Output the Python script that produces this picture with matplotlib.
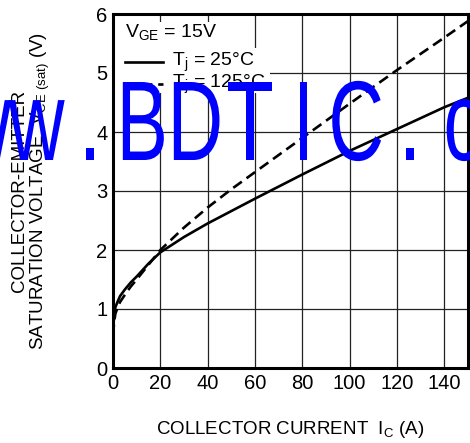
import matplotlib
matplotlib.use("Agg")
import matplotlib.pyplot as plt
from matplotlib.patches import Rectangle, PathPatch
from matplotlib.textpath import TextPath
from matplotlib.font_manager import FontProperties
from matplotlib.transforms import Affine2D

plt.rcParams['font.family'] = ['Liberation Sans', 'DejaVu Sans']
plt.rcParams['mathtext.fontset'] = 'custom'
plt.rcParams['mathtext.rm'] = 'Liberation Sans'

# Ic (A) gegen VCE(sat) (V)
ic = [0, 0.5, 1, 2, 3, 5, 7.5, 10, 15, 20, 30, 40, 50, 60, 80, 100, 120, 140, 150]
vce_25 = [0.6, 0.92, 1.03, 1.13, 1.22, 1.33, 1.45, 1.55, 1.77, 1.96, 2.22, 2.45,
          2.66, 2.87, 3.28, 3.68, 4.05, 4.42, 4.58]
vce_125 = [0.55, 0.78, 0.92, 1.03, 1.12, 1.24, 1.38, 1.5, 1.75, 2.0, 2.38, 2.72,
           3.03, 3.32, 3.9, 4.48, 5.05, 5.6, 5.88]

x_ticks = [0, 20, 40, 60, 80, 100, 120, 140]
y_ticks = [0, 1, 2, 3, 4, 5, 6]

W, H = 470, 443
fig = plt.figure(figsize=(W / 100, H / 100), dpi=100)
ax = fig.add_axes([113 / W, (H - 368) / H, 355 / W, 354 / H])

ax.plot(ic, vce_25, color='black', lw=1.9, zorder=3)
ax.plot(ic, vce_125, color='black', lw=1.9, ls=(0, (4, 2.2)), zorder=3)

ax.set_xlim(0, 150)
ax.set_ylim(0, 6)
ax.set_xticks(x_ticks)
ax.set_yticks(y_ticks)
ax.tick_params(direction='in', length=0, labelsize=14.5, pad=4)
ax.grid(True, color='#222222', lw=0.9)
ax.set_axisbelow(True)
for s in ax.spines.values():
    s.set_linewidth(2.2)

# weisse Flaechen hinter der Legende
ax.add_patch(Rectangle((0, 0.904), 0.315, 0.073, transform=ax.transAxes,
                       facecolor='white', edgecolor='none', zorder=1))
ax.add_patch(Rectangle((0, 0.777), 0.442, 0.127, transform=ax.transAxes,
                       facecolor='white', edgecolor='none', zorder=1))

ax.text(0.034, 0.946, r"V$_\mathregular{GE}$ = 15V", transform=ax.transAxes,
        fontsize=14, va='center', ha='left', zorder=4)
ax.plot([0.034, 0.141], [0.864, 0.864], transform=ax.transAxes, color='black', lw=1.9, zorder=4)
ax.plot([0.034, 0.141], [0.802, 0.802], transform=ax.transAxes, color='black', lw=1.9,
        ls=(0, (4, 2.2)), zorder=4)
ax.text(0.166, 0.864, r"T$_\mathregular{j}$ = 25°C", transform=ax.transAxes,
        fontsize=14, va='center', ha='left', zorder=4)
ax.text(0.166, 0.802, r"T$_\mathregular{j}$ = 125°C", transform=ax.transAxes,
        fontsize=14, va='center', ha='left', zorder=4)

ax.set_xlabel(r"COLLECTOR CURRENT  I$_\mathregular{C}$ (A)", fontsize=13.5, labelpad=19)

fig.text(20 / W, 0.568, "COLLECTOR-EMITTER", rotation=90, fontsize=13.5,
         ha='center', va='center')
fig.text(40 / W, 0.568, r"SATURATION VOLTAGE  V$_\mathregular{CE\ (sat)}$ (V)",
         rotation=90, fontsize=13.5, ha='center', va='center')

# Wasserzeichen
wm_prop = FontProperties(family='Liberation Sans')
cap_h = TextPath((0, 0), 'B', size=100, prop=wm_prop).get_extents().height
sc = 78 / cap_h
for i, ch in enumerate("www.BDTIC.com"):
    p = TextPath((0, 0), ch, size=100, prop=wm_prop)
    e = p.get_extents()
    cx = 90 + (i - 3) * 53.33
    tr = Affine2D().translate(-(e.x0 + e.x1) / 2, 0).scale(sc * 0.68, sc).translate(cx, H - 160)
    fig.add_artist(PathPatch(p, transform=tr, facecolor='#0000ff', edgecolor='none', zorder=10))

fig.savefig("out.png", dpi=100)
